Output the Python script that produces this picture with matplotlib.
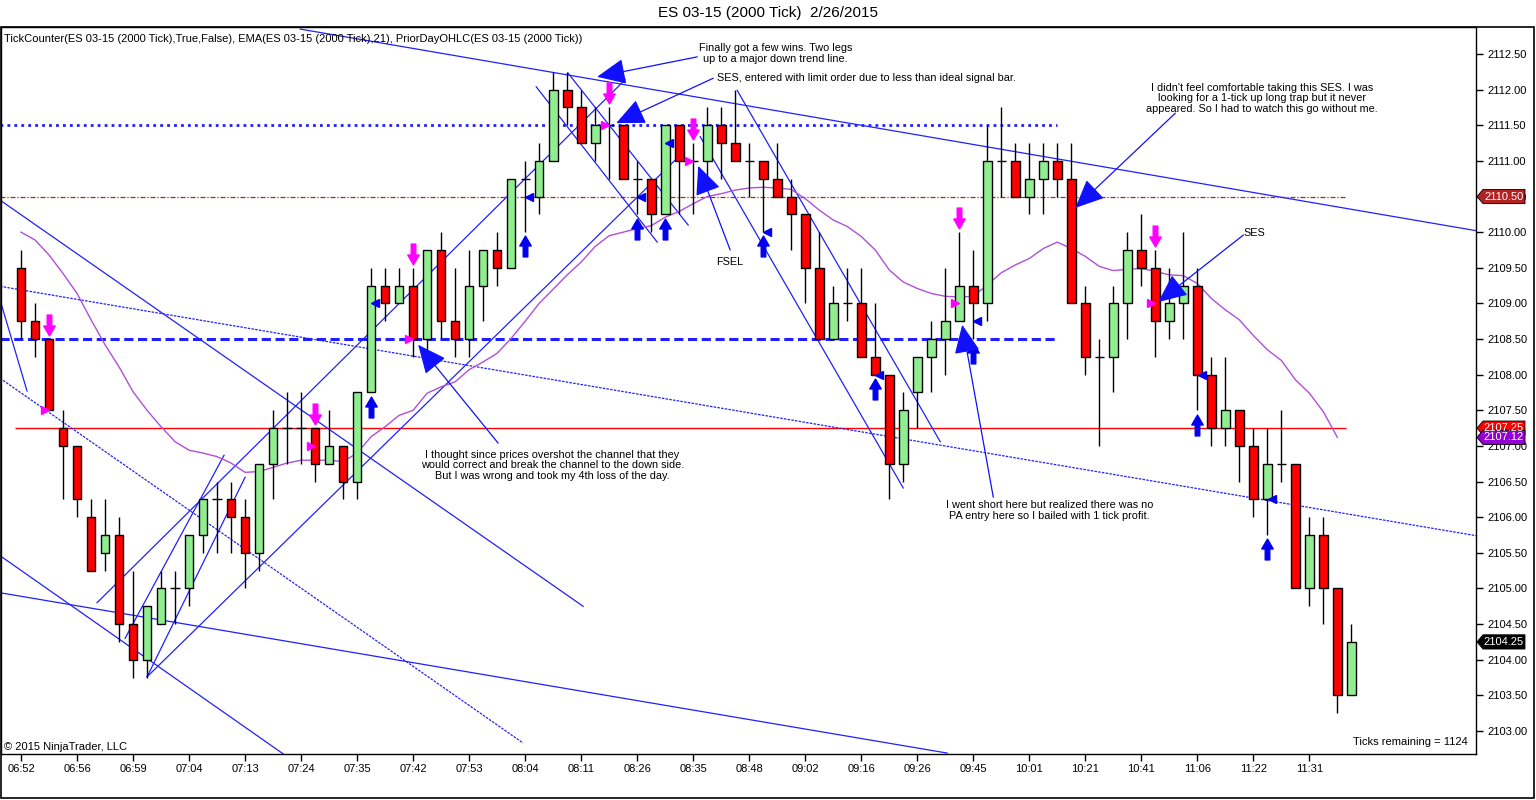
import matplotlib
matplotlib.use('Agg')
import matplotlib.pyplot as plt
from matplotlib.path import Path
from matplotlib.patches import Polygon, Rectangle
from matplotlib.transforms import blended_transform_factory

plt.rcParams['font.family'] = ['Liberation Sans', 'DejaVu Sans']

# --- bar data (ES 03-15, 2000 tick bars) ---
opens = [2109.5, 2108.75, 2108.5, 2107.25, 2107.0, 2106.0, 2105.5, 2105.75, 2104.5, 2104.0,
         2104.5, 2105.0, 2105.0, 2105.75, 2106.25, 2106.25, 2106.0, 2105.5, 2106.75, 2107.25,
         2107.25, 2107.25, 2106.75, 2107.0, 2106.5, 2107.75, 2109.25, 2109.0, 2109.25, 2108.5,
         2109.75, 2108.75, 2108.5, 2109.25, 2109.75, 2109.5, 2110.75, 2110.5, 2111.0, 2112.0,
         2111.75, 2111.25, 2111.5, 2111.5, 2110.75, 2110.75, 2110.25, 2111.5, 2111.0, 2111.0,
         2111.5, 2111.25, 2111.0, 2111.0, 2110.75, 2110.5, 2110.25, 2109.5, 2108.5, 2109.0,
         2109.0, 2108.25, 2108.0, 2106.75, 2107.75, 2108.25, 2108.5, 2108.75, 2109.25, 2109.0,
         2111.0, 2111.0, 2110.5, 2110.75, 2111.0, 2110.75, 2109.0, 2108.25, 2108.25, 2109.0,
         2109.75, 2109.5, 2108.75, 2109.0, 2109.25, 2108.0, 2107.25, 2107.5, 2107.0, 2106.25,
         2106.75, 2106.75, 2105.0, 2105.75, 2105.0, 2103.5]
highs = [2109.75, 2109.0, 2108.5, 2107.5, 2107.0, 2106.25, 2106.25, 2106.0, 2105.25, 2104.75,
         2105.25, 2105.25, 2105.75, 2106.25, 2106.5, 2106.5, 2106.25, 2106.75, 2107.5, 2107.75,
         2107.75, 2107.25, 2107.5, 2107.0, 2107.75, 2109.5, 2109.5, 2109.5, 2109.5, 2109.75,
         2110.0, 2109.5, 2109.75, 2109.75, 2110.0, 2110.75, 2111.0, 2111.25, 2112.25, 2112.25,
         2112.0, 2111.75, 2111.75, 2111.5, 2111.0, 2110.75, 2111.5, 2111.5, 2111.25, 2111.75,
         2111.75, 2112.0, 2111.25, 2111.0, 2111.25, 2110.75, 2110.25, 2110.0, 2109.25, 2109.5,
         2109.5, 2109.0, 2108.0, 2107.75, 2108.25, 2108.75, 2109.5, 2110.0, 2109.75, 2111.5,
         2111.75, 2111.25, 2111.25, 2111.25, 2111.25, 2111.25, 2109.25, 2108.5, 2109.25, 2110.0,
         2110.25, 2109.75, 2109.5, 2110.0, 2109.5, 2108.25, 2108.25, 2107.5, 2107.25, 2107.25,
         2107.5, 2106.75, 2106.0, 2106.0, 2105.0, 2104.5]
lows = [2108.5, 2108.25, 2107.5, 2106.25, 2106.0, 2105.25, 2105.25, 2104.25, 2103.75, 2103.75,
        2104.5, 2104.5, 2104.75, 2105.5, 2105.5, 2105.5, 2105.0, 2105.25, 2106.25, 2106.75,
        2106.75, 2106.5, 2106.75, 2106.25, 2106.25, 2107.75, 2108.75, 2109.0, 2108.25, 2108.25,
        2108.5, 2108.25, 2108.25, 2108.75, 2109.25, 2109.5, 2110.0, 2110.25, 2111.0, 2111.5,
        2111.25, 2111.0, 2110.75, 2110.75, 2110.25, 2110.0, 2110.25, 2110.25, 2110.25, 2110.75,
        2110.75, 2111.0, 2110.5, 2110.0, 2110.5, 2109.75, 2109.0, 2108.5, 2108.5, 2108.75,
        2108.25, 2108.0, 2106.25, 2106.5, 2107.25, 2107.75, 2108.0, 2108.75, 2108.5, 2108.75,
        2110.5, 2110.5, 2110.25, 2110.25, 2110.5, 2109.0, 2108.0, 2107.0, 2107.75, 2108.5,
        2109.25, 2108.25, 2108.5, 2108.5, 2107.5, 2107.0, 2107.0, 2106.5, 2106.0, 2105.75,
        2106.5, 2105.0, 2104.75, 2104.5, 2103.25, 2103.5]
closes = [2108.75, 2108.5, 2107.5, 2107.0, 2106.25, 2105.25, 2105.75, 2104.5, 2104.0, 2104.75,
          2105.0, 2105.0, 2105.75, 2106.25, 2106.25, 2106.0, 2105.5, 2106.75, 2107.25, 2107.25,
          2107.25, 2106.75, 2107.0, 2106.5, 2107.75, 2109.25, 2109.0, 2109.25, 2108.5, 2109.75,
          2108.75, 2108.5, 2109.25, 2109.75, 2109.5, 2110.75, 2110.75, 2111.0, 2112.0, 2111.75,
          2111.25, 2111.5, 2111.5, 2110.75, 2110.75, 2110.25, 2111.5, 2111.0, 2111.0, 2111.5,
          2111.25, 2111.0, 2111.0, 2110.75, 2110.5, 2110.25, 2109.5, 2108.5, 2109.0, 2109.0,
          2108.25, 2108.0, 2106.75, 2107.5, 2108.25, 2108.5, 2108.75, 2109.25, 2109.0, 2111.0,
          2111.0, 2110.5, 2110.75, 2111.0, 2110.75, 2109.0, 2108.25, 2108.25, 2109.0, 2109.75,
          2109.5, 2108.75, 2109.0, 2109.25, 2108.0, 2107.25, 2107.5, 2107.0, 2106.25, 2106.75,
          2106.75, 2105.0, 2105.75, 2105.0, 2103.5, 2104.25]

# EMA(21) (bars 1..95)
ema = [2110.0, 2109.89, 2109.68, 2109.42, 2109.14, 2108.77, 2108.42, 2108.11, 2107.76, 2107.5,
       2107.27, 2107.06, 2106.94, 2106.9, 2106.85, 2106.76, 2106.63, 2106.64, 2106.7, 2106.76,
       2106.8, 2106.8, 2106.8, 2106.78, 2106.9, 2107.13, 2107.27, 2107.43, 2107.5, 2107.74,
       2107.83, 2107.9, 2108.07, 2108.18, 2108.3, 2108.51, 2108.75, 2109.0, 2109.2, 2109.4,
       2109.58, 2109.8, 2109.95, 2110.0, 2110.05, 2110.09, 2110.21, 2110.29, 2110.4, 2110.5,
       2110.54, 2110.59, 2110.62, 2110.63, 2110.62, 2110.6, 2110.47, 2110.31, 2110.17, 2110.08,
       2109.94, 2109.75, 2109.47, 2109.3, 2109.21, 2109.14, 2109.1, 2109.09, 2109.1, 2109.26,
       2109.43, 2109.54, 2109.63, 2109.77, 2109.86, 2109.77, 2109.66, 2109.52, 2109.46, 2109.48,
       2109.49, 2109.45, 2109.4, 2109.39, 2109.28, 2109.07, 2108.91, 2108.77, 2108.55, 2108.35,
       2108.2, 2107.93, 2107.74, 2107.48, 2107.12]

time_labels = ['06:52', '06:56', '06:59', '07:04', '07:13', '07:24', '07:35', '07:42', '07:53',
               '08:04', '08:11', '08:26', '08:35', '08:48', '09:02', '09:16', '09:26', '09:45',
               '10:01', '10:21', '10:41', '11:06', '11:22', '11:31']

# signal markers
long_bars = [26, 37, 45, 47, 54, 62, 69, 85, 90]
short_bars = [3, 22, 29, 43, 49, 68, 82]
long_fills = [(26, 2109.0), (37, 2110.5), (45, 2110.5), (47, 2111.25), (54, 2110.0),
              (62, 2108.0), (69, 2108.75), (85, 2108.0), (90, 2106.25)]
short_fills = [(3, 2107.5), (22, 2107.0), (29, 2108.5), (43, 2111.5), (49, 2111.0),
               (68, 2109.0), (82, 2109.0)]

# prior day levels: price, from bar, to bar
prior_high = (2111.5, -0.5, 75)
prior_close = (2110.5, -0.5, 95.6)
prior_low = (2108.5, -0.5, 75)
prior_open = (2107.25, 0.6, 95.6)

# hand drawn trend lines (bar, price, bar, price)
trend_lines = [(20.93, 2112.85, 104.93, 2110.02), (-0.5, 2110.45, 41.14, 2104.75),
               (-0.5, 2104.94, 67.14, 2102.69), (-0.5, 2105.46, 19.71, 2102.68),
               (-0.5, 2109.05, 1.43, 2107.77), (6.43, 2104.80, 44.14, 2112.14),
               (10.0, 2103.76, 48.07, 2111.08), (8.43, 2104.30, 15.5, 2106.87),
               (10.0, 2103.76, 17.0, 2106.56), (37.79, 2112.04, 46.43, 2109.86),
               (40.07, 2112.23, 48.64, 2110.10), (52.14, 2111.99, 66.64, 2107.06),
               (49.5, 2111.34, 64.0, 2106.41)]
dotted_lines = [(-0.5, 2109.24, 104.93, 2105.74), (-0.5, 2107.95, 36.86, 2102.83)]

# comments: (tail bar, tail price, tip bar, tip price)
arrows = [(49.29, 2112.46, 42.14, 2112.18), (50.43, 2112.16, 43.5, 2111.53),
          (51.64, 2109.75, 49.36, 2110.93), (83.43, 2111.67, 76.29, 2110.34),
          (88.29, 2109.96, 82.21, 2109.02), (70.43, 2106.28, 68.21, 2108.70),
          (35.07, 2107.04, 29.36, 2108.42)]
notes = [(54.86, 2112.51, 'center', 'Finally got a few wins. Two legs\nup to a major down trend line.'),
         (50.71, 2112.16, 'left', 'SES, entered with limit order due to less than ideal signal bar.'),
         (51.64, 2109.58, 'center', 'FSEL'),
         (89.64, 2111.88, 'center', "I didn't feel comfortable taking this SES. I was\n"
                                     "looking for a 1-tick up long trap but it never\n"
                                     "appeared. So I had to watch this go without me."),
         (89.07, 2109.99, 'center', 'SES'),
         (74.43, 2106.09, 'center', 'I went short here but realized there was no\n'
                                     'PA entry here so I bailed with 1 tick profit.'),
         (38.93, 2106.73, 'center', 'I thought since prices overshot the channel that they\n'
                                     'would correct and break the channel to the down side.\n'
                                     'But I was wrong and took my 4th loss of the day.')]

# right axis price tags
tags = [(2110.5, '#b22222'), (2107.25, '#ff0000'), (2107.12, '#9400d3'), (2104.25, '#000000')]

fig = plt.figure(figsize=(15.36, 8), dpi=100)
ax = fig.add_axes([1 / 1536, 46 / 800, 1475 / 1536, 727 / 800])
ax.set_xlim(-0.43, 104.9)
ax.set_ylim(2102.677, 2112.879)

bars = list(range(1, len(opens) + 1))

# horizontal levels
ax.hlines(prior_high[0], prior_high[1], prior_high[2], color='#1f1fff', lw=2, linestyles=(0, (1, 1.5)), zorder=1)
ax.hlines(prior_close[0], prior_close[1], prior_close[2], color='#b22222', lw=0.9, linestyles=(0, (4, 1.5, 1, 1.5)), zorder=1)
ax.hlines(prior_low[0], prior_low[1], prior_low[2], color='#1f1fff', lw=2.2, linestyles=(0, (3, 1.5)), zorder=1)
ax.hlines(prior_open[0], prior_open[1], prior_open[2], color='#ff0000', lw=1, zorder=1)

for x1, y1, x2, y2 in trend_lines:
    ax.plot([x1, x2], [y1, y2], color='#2020ff', lw=0.9, zorder=2)
for x1, y1, x2, y2 in dotted_lines:
    ax.plot([x1, x2], [y1, y2], color='#2020ff', lw=0.9, ls=(0, (2, 1)), zorder=2)

ax.plot(bars[:len(ema)], ema, color='#b050d8', lw=1, zorder=2)

# candles
for i, o, h, l, c in zip(bars, opens, highs, lows, closes):
    ax.vlines(i, l, h, color='black', lw=1, zorder=3)
    if o == c:
        ax.hlines(c, i - 0.33, i + 0.33, color='black', lw=1, zorder=4)
    else:
        col = '#90ee90' if c > o else '#ff0000'
        ax.bar(i, abs(c - o), bottom=min(o, c), width=0.62, color=col,
               edgecolor='black', linewidth=1, zorder=4)

# signal arrows
up_arrow = Path([(-0.22, -1), (0.22, -1), (0.22, 0.05), (0.55, 0.05), (0, 1),
                 (-0.55, 0.05), (-0.22, 0.05), (-0.22, -1)], closed=True)
down_arrow = Path([(x, -y) for x, y in up_arrow.vertices], closed=True)
ax.plot(long_bars, [lows[b - 1] - 0.2 for b in long_bars], ls='none', marker=up_arrow,
        ms=15, color='#0000ee', mec='#0000ee', zorder=5)
ax.plot(short_bars, [highs[b - 1] + 0.2 for b in short_bars], ls='none', marker=down_arrow,
        ms=15, color='#ff00ff', mec='#ff00ff', zorder=5)
ax.plot([b + 0.3 for b, p in long_fills], [p for b, p in long_fills], ls='none', marker='<',
        ms=6, color='#0000ee', zorder=5)
ax.plot([b - 0.3 for b, p in short_fills], [p for b, p in short_fills], ls='none', marker='>',
        ms=6, color='#ff00ff', zorder=5)

# comments
for x1, y1, x2, y2 in arrows:
    ax.annotate('', xy=(x2, y2), xytext=(x1, y1),
                arrowprops=dict(arrowstyle='-|>,head_length=1.0,head_width=0.45',
                                color='#1010ff', lw=0.9, mutation_scale=18,
                                shrinkA=0, shrinkB=0), zorder=6)
for x, y, ha, txt in notes:
    ax.text(x, y, txt, ha=ha, va='center', fontsize=7.8, linespacing=1.08, zorder=6)

# axes styling
ax.yaxis.tick_right()
ax.set_yticks([2103.0 + 0.5 * k for k in range(20)])
ax.set_yticklabels(['%.2f' % (2103.0 + 0.5 * k) for k in range(20)])
ax.set_xticks(bars[::4])
ax.set_xticklabels(time_labels)
ax.tick_params(axis='both', direction='out', length=5, width=1, labelsize=8, pad=2)
ax.tick_params(axis='y', pad=3)
for s in ax.spines.values():
    s.set_linewidth(1)

# price tags on the axis
tr = blended_transform_factory(ax.transAxes, ax.transData)
aw = 1475.0
for price, col in tags:
    pts = [(1 + 1 / aw, price), (1 + 7 / aw, price + 0.1), (1 + 49 / aw, price + 0.1),
           (1 + 49 / aw, price - 0.1), (1 + 7 / aw, price - 0.1)]
    ax.add_patch(Polygon(pts, closed=True, transform=tr, facecolor=col, edgecolor='black',
                         lw=0.6, clip_on=False, zorder=7))
    ax.text(1 + 28 / aw, price, '%.2f' % price, transform=tr, ha='center', va='center',
            color='white', fontsize=8, zorder=8, clip_on=False)

ax.text(0.002, 0.984, 'TickCounter(ES 03-15 (2000 Tick),True,False), EMA(ES 03-15 (2000 Tick),21), '
        'PriorDayOHLC(ES 03-15 (2000 Tick))', transform=ax.transAxes, fontsize=8, va='center')
ax.text(0.002, 0.009, '\u00a9 2015 NinjaTrader, LLC', transform=ax.transAxes, fontsize=8, va='center')
ax.text(0.9946, 0.016, 'Ticks remaining = 1124', transform=ax.transAxes, fontsize=8,
        va='center', ha='right')

fig.text(0.5, 1 - 13 / 800, 'ES 03-15 (2000 Tick)  2/26/2015', ha='center', va='center', fontsize=11)
fig.add_artist(Rectangle((1 / 1536, 2 / 800), 1533 / 1536, 771 / 800, transform=fig.transFigure,
                         fill=False, edgecolor='black', lw=1.2))

fig.savefig('out.png', dpi=100)
